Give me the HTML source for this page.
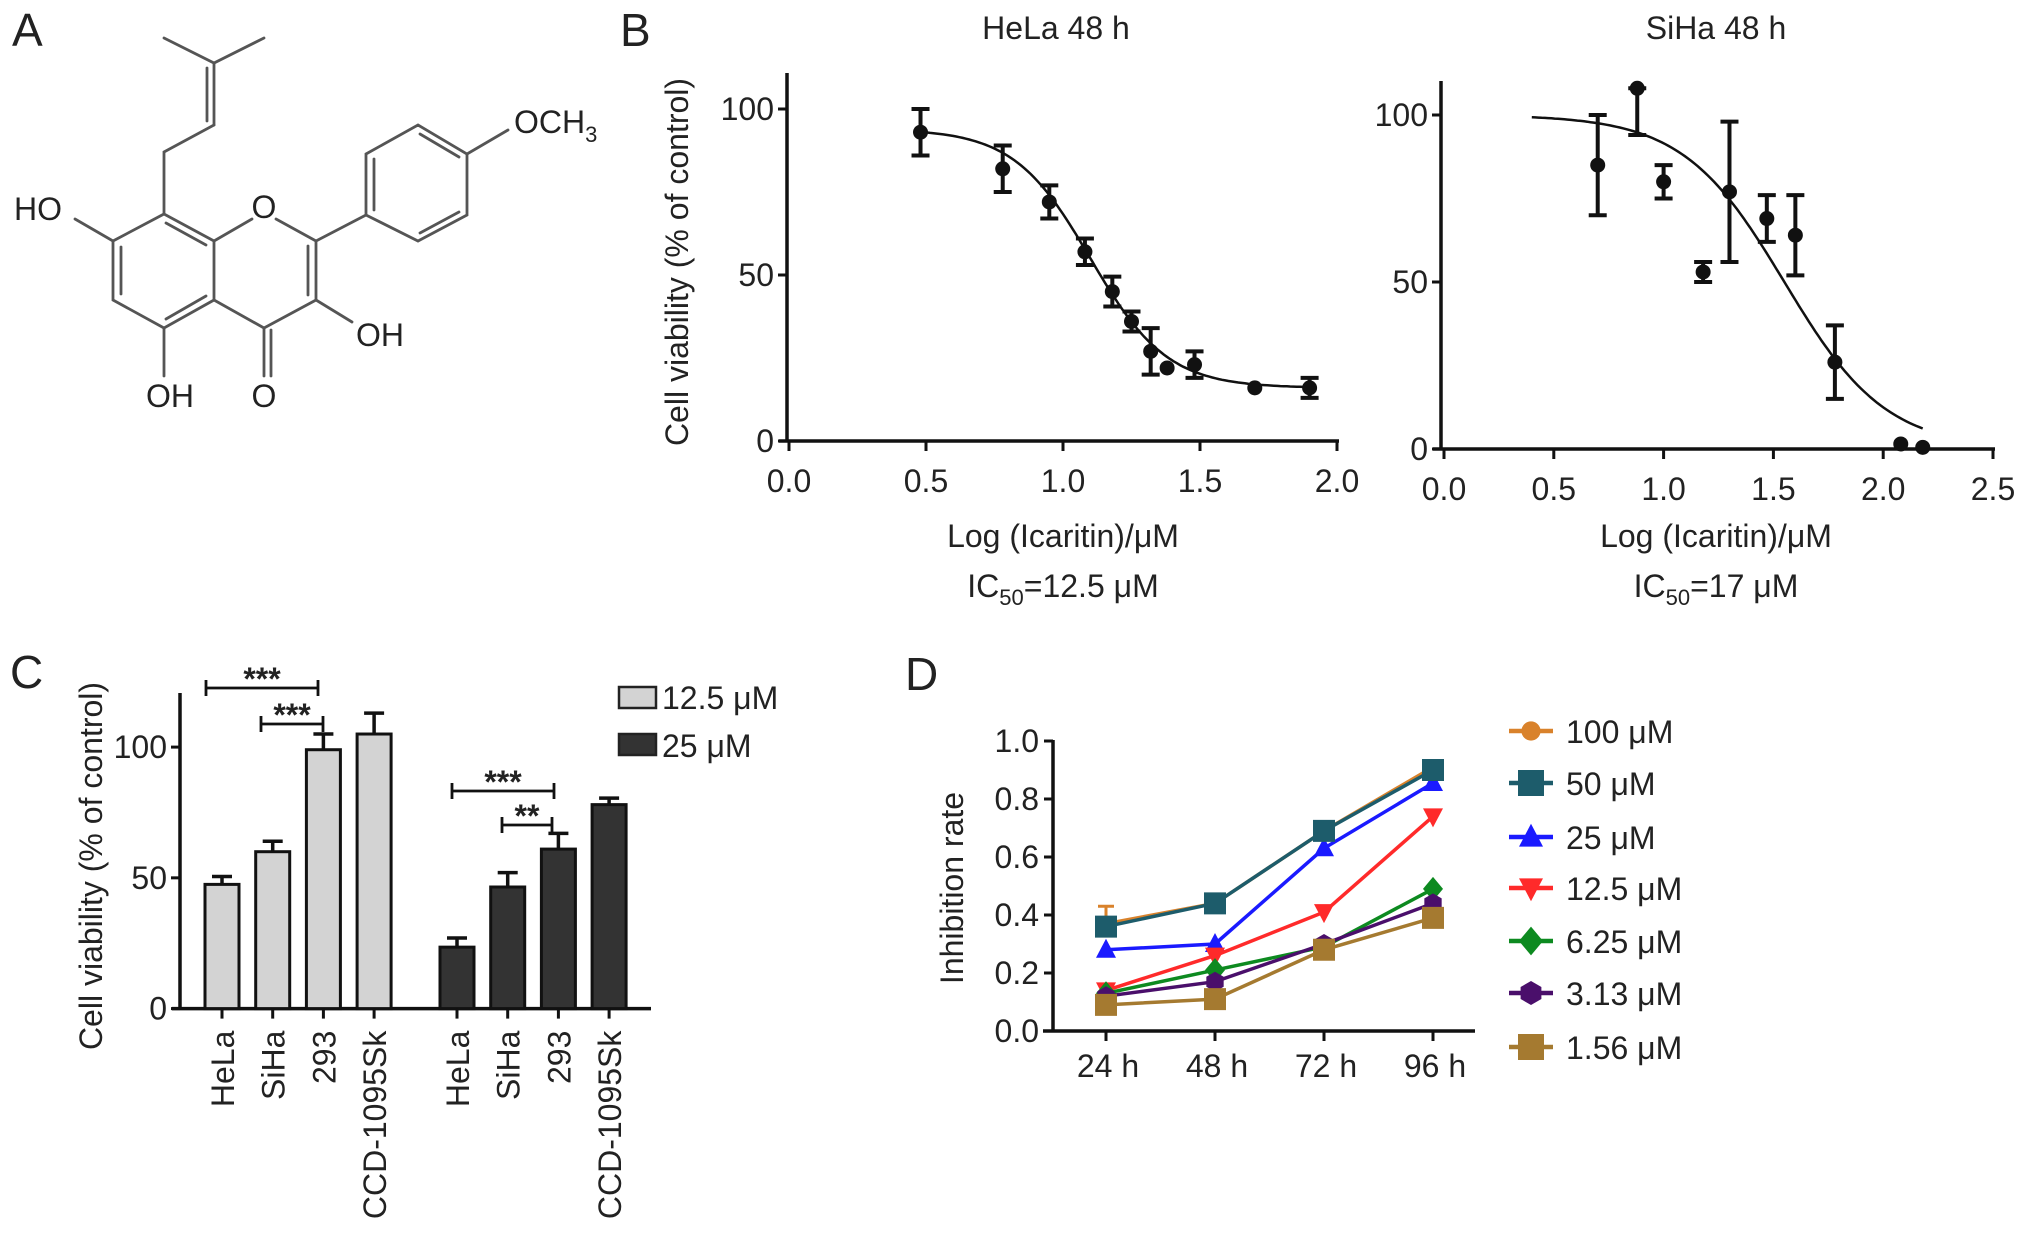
<!DOCTYPE html>
<html><head><meta charset="utf-8"><style>
html,body{margin:0;padding:0;background:#fff;}
svg{display:block;font-family:"Liberation Sans",sans-serif;}
text{fill:#222;}
</style></head><body>
<svg id="fig" width="2032" height="1243" viewBox="0 0 2032 1243">
<rect x="0" y="0" width="2032" height="1243" fill="#fff"/>
<text x="12" y="46" font-size="46">A</text>
<text x="620" y="46" font-size="46">B</text>
<text x="10" y="688" font-size="46">C</text>
<text x="905" y="690" font-size="46">D</text>

<g id="struct" stroke="#555" stroke-width="2.8" fill="none" stroke-linecap="round">
<polyline points="164,38 214,63 264,38"/>
<line x1="214" y1="63" x2="214" y2="125"/>
<line x1="207" y1="68" x2="207" y2="121"/>
<polyline points="214,125 164,152 164,214"/>
<polygon points="164,214 214,241 214,300 164,328 113,300 113,241"/>
<line x1="166" y1="223" x2="206" y2="245"/>
<line x1="206" y1="296" x2="166" y2="319"/>
<line x1="121" y1="247" x2="121" y2="294"/>
<polyline points="214,241 252,219"/>
<polyline points="276,219 316,241 316,300 264,328 214,300"/>
<line x1="308" y1="246" x2="308" y2="295"/>
<line x1="264" y1="328" x2="264" y2="376"/>
<line x1="271" y1="330" x2="271" y2="376"/>
<line x1="316" y1="300" x2="352" y2="322"/>
<line x1="164" y1="328" x2="164" y2="376"/>
<line x1="113" y1="241" x2="75" y2="219"/>
<line x1="316" y1="241" x2="366" y2="215"/>
<polygon points="366,215 366,154 418,125 467,154 467,215 418,241"/>
<line x1="374" y1="159" x2="374" y2="210"/>
<line x1="420" y1="134" x2="459" y2="157"/>
<line x1="459" y1="212" x2="420" y2="233"/>
<line x1="467" y1="154" x2="508" y2="130"/>
</g>
<g font-size="32">
<text x="264" y="218" text-anchor="middle">O</text>
<text x="14" y="220">HO</text>
<text x="356" y="346">OH</text>
<text x="146" y="407">OH</text>
<text x="264" y="407" text-anchor="middle">O</text>
<text x="514" y="133">OCH<tspan font-size="22" dy="9">3</tspan></text>
</g>

<text x="1056" y="39" font-size="32" text-anchor="middle">HeLa 48 h</text>
<text x="1716" y="39" font-size="32" text-anchor="middle">SiHa 48 h</text>
<text transform="translate(688,262) rotate(-90)" font-size="32" text-anchor="middle">Cell viability (% of control)</text>
<text x="1063" y="547" font-size="32" text-anchor="middle">Log (Icaritin)/μM</text>
<text x="1063" y="597" font-size="32" text-anchor="middle">IC<tspan font-size="22" dy="8">50</tspan><tspan dy="-8">=12.5 μM</tspan></text>
<text x="1716" y="547" font-size="32" text-anchor="middle">Log (Icaritin)/μM</text>
<text x="1716" y="597" font-size="32" text-anchor="middle">IC<tspan font-size="22" dy="8">50</tspan><tspan dy="-8">=17 μM</tspan></text>

<text transform="translate(102,866) rotate(-90)" font-size="32" text-anchor="middle">Cell viability (% of control)</text>
<rect x="619" y="687" width="37" height="21" fill="#d3d3d3" stroke="#222" stroke-width="2.5"/>
<text x="662" y="709" font-size="32">12.5 μM</text>
<rect x="619" y="734" width="37" height="21" fill="#333" stroke="#222" stroke-width="2.5"/>
<text x="662" y="757" font-size="32">25 μM</text>

<text transform="translate(963,888) rotate(-90)" font-size="32" text-anchor="middle">Inhibition rate</text>

<g id="plots"></g>
</svg>
<script>
const helaX=[0.48,0.78,0.95,1.08,1.18,1.25,1.32,1.38,1.48,1.70,1.90];
const helaY=[93,82,72,57,45,36,27,22,23,16,16];
const helaErr=[7,7,5,4,4.5,3,7,0,4,0,3];
const helaFit=[16,94,1.1,3.1];
const helaXTicks=["0.0","0.5","1.0","1.5","2.0"];
const helaYTicks=["0","50","100"];
const sihaX=[0.70,0.88,1.00,1.18,1.30,1.47,1.60,1.78,2.08,2.18];
const sihaY=[85,108,80,53,77,69,64,26,1.5,0.5];
const sihaErrUp=[15,0,5,3,21,7,12,11,0,0];
const sihaErrDown=[15,14,5,3,21,7,12,11,0,0];
const sihaFit=[0,100,1.55,1.88];
const sihaXTicks=["0.0","0.5","1.0","1.5","2.0","2.5"];
const sihaYTicks=["0","50","100"];
const cCats=["HeLa","SiHa","293","CCD-1095Sk"];
const c125=[47.5,60,99,105];
const c125Err=[3,4,6,8];
const c25=[23.5,46.5,61,78];
const c25Err=[3.5,5.5,6,2.5];
const cYTicks=["0","50","100"];
const dCats=["24 h","48 h","72 h","96 h"];
const dNames=["100 μM","50 μM","25 μM","12.5 μM","6.25 μM","3.13 μM","1.56 μM"];
const d100=[0.37,0.44,0.69,0.91];
const d50=[0.36,0.44,0.69,0.90];
const d25=[0.28,0.30,0.63,0.855];
const d12=[0.14,0.26,0.41,0.74];
const d6=[0.13,0.21,0.29,0.49];
const d3=[0.12,0.17,0.30,0.44];
const d1=[0.09,0.11,0.28,0.39];
const dErr100=[0.06,0.01,0.01,0.01];
const dYTicks=["0.0","0.2","0.4","0.6","0.8","1.0"];

const svg=document.getElementById('fig');
const NS=svg.namespaceURI;
const root=document.getElementById('plots');
function mk(tag,attrs,parent){const e=document.createElementNS(NS,tag);for(const k in attrs)e.setAttribute(k,attrs[k]);(parent||root).appendChild(e);return e;}

const xB1=v=>789+v*274, yB1=v=>441-v*3.32;
const xB2=v=>1444+v*219.6, yB2=v=>449-v*3.34;
const yC=v=>1008.6-v*2.615;
const xD=i=>1106+i*109, yD=v=>1031-v*290;
function sig(p,x){return p[0]+(p[1]-p[0])/(1+Math.pow(10,(x-p[2])*p[3]));}

function doseChart(name,xs,ys,eu,ed,fit,xt,yt,xf,yf,x0,x1,ax,ayTop,xEnd){
  let e;
  e=mk('line',{x1:ax,y1:ayTop,x2:ax,y2:yf(0),stroke:'#111','stroke-width':3.5});
  
  
  e=mk('line',{x1:ax-8,y1:yf(0),x2:xEnd,y2:yf(0),stroke:'#111','stroke-width':3.5});
  
  
  yt.forEach(t=>{const v=+t;
    e=mk('line',{x1:ax-9,y1:yf(v),x2:ax,y2:yf(v),stroke:'#111','stroke-width':3});
    
    
    e=mk('text',{x:ax-13,y:yf(v)+11,'font-size':32,'text-anchor':'end'});e.textContent=t;
    
    
  });
  xt.forEach(t=>{const v=+t;
    e=mk('line',{x1:xf(v),y1:yf(0),x2:xf(v),y2:yf(0)+10,stroke:'#111','stroke-width':3});
    
    
    e=mk('text',{x:xf(v),y:yf(0)+51,'font-size':32,'text-anchor':'middle'});e.textContent=t;
    
    
  });
  let d='';for(let i=0;i<=120;i++){const x=x0+(x1-x0)*i/120;d+=(i?'L':'M')+xf(x).toFixed(1)+','+yf(sig(fit,x)).toFixed(1);}
  e=mk('path',{d:d,fill:'none',stroke:'#111','stroke-width':2.5});
  
  
  xs.forEach((x,i)=>{const cx=xf(x);
    if(eu[i]>0||ed[i]>0){
      const t=yf(ys[i]+eu[i]),b=yf(ys[i]-ed[i]);
      e=mk('path',{d:`M${cx},${t}L${cx},${b}M${cx-9},${t}L${cx+9},${t}M${cx-9},${b}L${cx+9},${b}`,stroke:'#111','stroke-width':4,fill:'none'});
      
      
    }
    e=mk('circle',{cx:cx,cy:yf(ys[i]),r:7.5,fill:'#111'});
    
    
  });
}
doseChart('hela',helaX,helaY,helaErr,helaErr,helaFit,helaXTicks,helaYTicks,xB1,yB1,0.48,1.9,787,73,1339);
doseChart('siha',sihaX,sihaY,sihaErrUp,sihaErrDown,sihaFit,sihaXTicks,sihaYTicks,xB2,yB2,0.4,2.18,1441,81,1995);

(function(){
  let e;
  e=mk('line',{x1:180,y1:693,x2:180,y2:yC(0),stroke:'#111','stroke-width':3.5});
  
  
  e=mk('line',{x1:172,y1:yC(0),x2:651,y2:yC(0),stroke:'#111','stroke-width':3.5});
  
  
  cYTicks.forEach(t=>{const v=+t;
    e=mk('line',{x1:171,y1:yC(v),x2:180,y2:yC(v),stroke:'#111','stroke-width':3});
    
    
    e=mk('text',{x:167,y:yC(v)+11,'font-size':32,'text-anchor':'end'});e.textContent=t;
    
    
  });
  const groups=[[c125,c125Err,222,'#d3d3d3','light'],[c25,c25Err,457,'#333','dark']];
  groups.forEach(g=>{
    g[0].forEach((v,i)=>{
      const cx=g[2]+i*50.7,w=34;
      const et=yC(v+g[1][i]);
      e=mk('path',{d:`M${cx},${yC(v)}L${cx},${et}M${cx-10},${et}L${cx+10},${et}`,stroke:'#111','stroke-width':3.5,fill:'none'});
      
      
      e=mk('rect',{x:cx-w/2,y:yC(v),width:w,height:yC(0)-yC(v),fill:g[3],stroke:'#111','stroke-width':3});
      
      
      e=mk('line',{x1:cx,y1:yC(0),x2:cx,y2:yC(0)+10,stroke:'#111','stroke-width':3});
      
      
      e=mk('text',{transform:`translate(${cx+12},${yC(0)+22}) rotate(-90)`,'font-size':32,'text-anchor':'end'});e.textContent=cCats[i];
      
      
    });
  });
  const br=[[206,318,688,'***'],[261,323,724,'***'],[452,554,791,'***'],[502,552,825,'**']];
  br.forEach(b=>{
    e=mk('path',{d:`M${b[0]},${b[2]-8}L${b[0]},${b[2]+8}M${b[0]},${b[2]}L${b[1]},${b[2]}M${b[1]},${b[2]-8}L${b[1]},${b[2]+8}`,stroke:'#111','stroke-width':2.8,fill:'none'});
    
    
    e=mk('text',{x:(b[0]+b[1])/2,y:b[2]+2,'font-size':32,'font-weight':'bold','text-anchor':'middle'});e.textContent=b[3];
    
    
  });
})();

(function(){
  let e;
  e=mk('line',{x1:1053,y1:740,x2:1053,y2:yD(0),stroke:'#111','stroke-width':3.5});
  
  
  e=mk('line',{x1:1043,y1:yD(0),x2:1475,y2:yD(0),stroke:'#111','stroke-width':3.5});
  
  
  dYTicks.forEach(t=>{const v=+t;
    e=mk('line',{x1:1044,y1:yD(v),x2:1053,y2:yD(v),stroke:'#111','stroke-width':3});
    
    
    e=mk('text',{x:1039,y:yD(v)+11,'font-size':32,'text-anchor':'end'});e.textContent=t;
    
    
  });
  dCats.forEach((c,i)=>{
    e=mk('line',{x1:xD(i),y1:yD(0),x2:xD(i),y2:yD(0)+10,stroke:'#111','stroke-width':3});
    
    
    e=mk('text',{x:xD(i)+2,y:yD(0)+46,'font-size':32,'text-anchor':'middle'});e.textContent=c;
    
    
  });
  const series=[d100,d50,d25,d12,d6,d3,d1];
  const colors=['#d9822b','#1d5c6b','#1a1aff','#ff2a2a','#0d8a20','#4a0f6b','#a57a30'];
  const shapes=['circle','square','tri','tridown','diamond','hex','square'];
  function marker(sh,x,y,c,s){
    let d;
    if(sh==='circle')return mk('circle',{cx:x,cy:y,r:s*0.8,fill:c});
    if(sh==='square')d=`M${x-s},${y-s}h${2*s}v${2*s}h${-2*s}Z`;
    if(sh==='tri')d=`M${x},${y-s*1.1}L${x+s},${y+s*0.8}L${x-s},${y+s*0.8}Z`;
    if(sh==='tridown')d=`M${x},${y+s*1.1}L${x+s},${y-s*0.8}L${x-s},${y-s*0.8}Z`;
    if(sh==='diamond')d=`M${x},${y-s*1.2}L${x+s},${y}L${x},${y+s*1.2}L${x-s},${y}Z`;
    if(sh==='hex'){d='';for(let k=0;k<6;k++){const a=Math.PI/6+k*Math.PI/3;d+=(k?'L':'M')+(x+s*Math.cos(a))+','+(y+s*Math.sin(a));}d+='Z';}
    return mk('path',{d:d,fill:c});
  }
  const order=[0,2,3,4,5,6,1];
  order.forEach(si=>{
    const vals=series[si];
    let d='';vals.forEach((v,i)=>{d+=(i?'L':'M')+xD(i)+','+yD(v);});
    e=mk('path',{d:d,fill:'none',stroke:colors[si],'stroke-width':3.5});
    
    
    if(si===0){
      vals.forEach((v,i)=>{const t=yD(v+dErr100[i]);
        e=mk('path',{d:`M${xD(i)},${yD(v)}L${xD(i)},${t}M${xD(i)-8},${t}L${xD(i)+8},${t}`,stroke:colors[0],'stroke-width':3,fill:'none'});
        
        
      });
    }
    vals.forEach((v,i)=>{
      e=marker(shapes[si],xD(i),yD(v),colors[si],si===1||si===6?11:10);
      
      
    });
  });
  const ly=[731,783,837,888,941,993,1047];
  dNames.forEach((n,si)=>{
    e=mk('line',{x1:1509,y1:ly[si],x2:1553,y2:ly[si],stroke:colors[si],'stroke-width':4.5});
    
    
    e=marker(shapes[si],1531,ly[si],colors[si],si===1||si===6?13:12);
    
    
    e=mk('text',{x:1566,y:ly[si]+12,'font-size':32});e.textContent=n;
    
    
  });
})();
</script>
</body></html>
